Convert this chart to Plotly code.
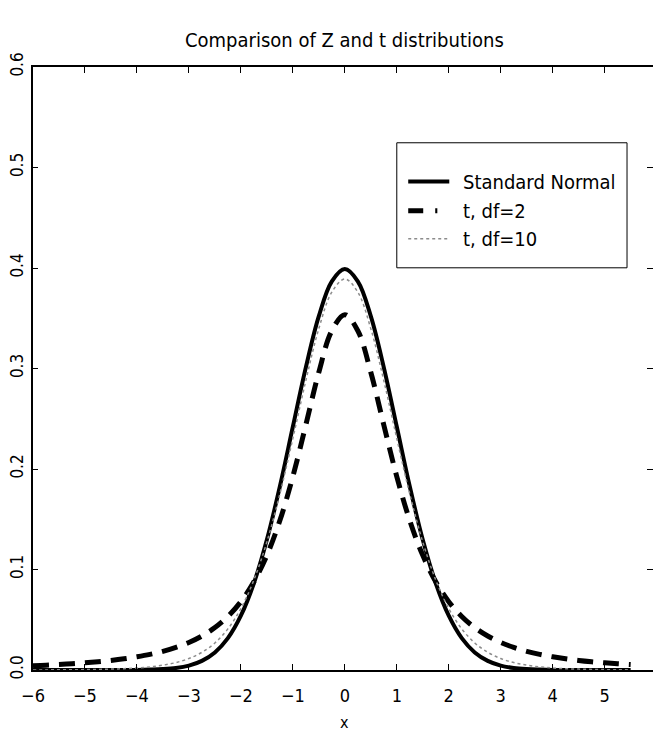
import plotly.graph_objects as go

# x grid used by the original plot
x = [-6.0, -5.75, -5.5, -5.25, -5.0, -4.75, -4.5, -4.25, -4.0, -3.75, -3.5, -3.25,
     -3.0, -2.75, -2.5, -2.25, -2.0, -1.75, -1.5, -1.25, -1.0, -0.75, -0.5, -0.25,
     0.0, 0.25, 0.5, 0.75, 1.0, 1.25, 1.5, 1.75, 2.0, 2.25, 2.5, 2.75,
     3.0, 3.25, 3.5, 3.75, 4.0, 4.25, 4.5, 4.75, 5.0, 5.25, 5.5]

# standard normal density
z_pdf = [0.0, 0.0, 0.0, 0.0, 0.0, 0.0, 0.0, 0.0, 0.0001, 0.0004, 0.0009, 0.0020,
         0.0044, 0.0091, 0.0175, 0.0317, 0.0540, 0.0863, 0.1295, 0.1826, 0.2420, 0.3011, 0.3521, 0.3867,
         0.3989, 0.3867, 0.3521, 0.3011, 0.2420, 0.1826, 0.1295, 0.0863, 0.0540, 0.0317, 0.0175, 0.0091,
         0.0044, 0.0020, 0.0009, 0.0004, 0.0001, 0.0, 0.0, 0.0, 0.0, 0.0, 0.0]

# t density, 2 degrees of freedom
t2_pdf = [0.0043, 0.0048, 0.0055, 0.0062, 0.0071, 0.0082, 0.0095, 0.0111, 0.0131, 0.0155, 0.0186, 0.0225,
          0.0274, 0.0338, 0.0422, 0.0533, 0.0680, 0.0878, 0.1141, 0.1487, 0.1925, 0.2438, 0.2963, 0.3376,
          0.3536, 0.3376, 0.2963, 0.2438, 0.1925, 0.1487, 0.1141, 0.0878, 0.0680, 0.0533, 0.0422, 0.0338,
          0.0274, 0.0225, 0.0186, 0.0155, 0.0131, 0.0111, 0.0095, 0.0082, 0.0071, 0.0062, 0.0055]

# t density, 10 degrees of freedom
t10_pdf = [0.0001, 0.0001, 0.0002, 0.0003, 0.0004, 0.0006, 0.0009, 0.0013, 0.0020, 0.0031, 0.0048, 0.0074,
           0.0114, 0.0176, 0.0269, 0.0409, 0.0611, 0.0895, 0.1274, 0.1751, 0.2304, 0.2880, 0.3397, 0.3760,
           0.3891, 0.3760, 0.3397, 0.2880, 0.2304, 0.1751, 0.1274, 0.0895, 0.0611, 0.0409, 0.0269, 0.0176,
           0.0114, 0.0074, 0.0048, 0.0031, 0.0020, 0.0013, 0.0009, 0.0006, 0.0004, 0.0003, 0.0002]

names = ["Standard Normal", "t, df=2", "t, df=10"]
x_ticks = [-6, -5, -4, -3, -2, -1, 0, 1, 2, 3, 4, 5, 6]
y_ticks = [0.0, 0.1, 0.2, 0.3, 0.4, 0.5, 0.6]

FONT = "Liberation Sans Narrow, DejaVu Sans Condensed, Roboto Condensed, Arial Narrow, sans-serif"

styles = [
    dict(color="black", width=4),
    dict(color="black", width=5, dash="16px,10px"),
    dict(color="#8c8c8c", width=1.5, dash="dot"),
]

fig = go.Figure()
for ys, nm, st in zip([z_pdf, t2_pdf, t10_pdf], names, styles):
    fig.add_trace(go.Scatter(x=x, y=ys, name=nm, mode="lines",
                             line=dict(shape="spline", **st), showlegend=False))
# empty trace so the right-hand tick axis gets drawn
fig.add_trace(go.Scatter(x=[], y=[], yaxis="y2", showlegend=False, hoverinfo="skip"))

# hand-made legend box like the original
shapes = [dict(type="rect", xref="x", yref="y", x0=1.0, x1=5.43, y0=0.4002, y1=0.5246,
               line=dict(color="black", width=1), fillcolor="white", layer="above")]
annots = []
rows = [0.486, 0.457, 0.429]
sample_end = [2.01, 1.78, 2.01]
sample_style = [styles[0], dict(color="black", width=5, dash="15px,12px"), styles[2]]
for ry, nm, st, xe in zip(rows, names, sample_style, sample_end):
    shapes.append(dict(type="line", xref="x", yref="y", x0=1.22, x1=xe, y0=ry, y1=ry,
                       line=st, layer="above"))
    annots.append(dict(x=2.24, y=ry, xref="x", yref="y", text=nm, showarrow=False,
                       xanchor="left", yanchor="middle", font=dict(size=20, color="black", family=FONT)))

annots.append(dict(x=0, y=1.0448, xref="x", yref="paper", text="Comparison of Z and t distributions",
                   showarrow=False, xanchor="center", yanchor="middle",
                   font=dict(size=20, color="black", family=FONT)))
annots.append(dict(x=0, y=-0.1061, xref="x", yref="paper", text="x",
                   showarrow=False, xanchor="center", yanchor="bottom",
                   font=dict(size=16, color="black", family=FONT)))

fig.update_layout(
    width=653, height=734,
    margin=dict(l=33, r=0, t=67, b=64),
    plot_bgcolor="white", paper_bgcolor="white",
    font=dict(family=FONT, color="black", size=17),
    shapes=shapes, annotations=annots,
    # right-hand ticks only (the right frame edge lies outside the picture)
    yaxis2=dict(overlaying="y", side="right", range=[0, 0.6], tickvals=y_ticks, ticks="inside",
                ticklen=6, tickwidth=1, tickcolor="black", showticklabels=False,
                showline=False, showgrid=False, zeroline=False),
)
fig.update_xaxes(range=[-6, 5.93], tickvals=x_ticks, ticks="inside", ticklen=6, tickwidth=1,
                 tickcolor="black", showline=True, linewidth=2, linecolor="black", mirror="ticks",
                 showgrid=False, zeroline=False, ticklabelstandoff=8,
                 tickfont=dict(size=18, family=FONT))
fig.update_layout(yaxis=dict(range=[0, 0.6], tickvals=y_ticks, tickformat=".1f", ticks="inside", ticklen=5,
                             tickwidth=1, tickcolor="black", showline=True, linewidth=2, linecolor="black",
                             mirror=False, showgrid=False, zeroline=False, tickangle=-90,
                             ticklabelstandoff=1, tickfont=dict(size=17, family=FONT)))

# page body has a default 8px margin; remove it so the figure fills the window
fig.write_html("out.html", config={"displayModeBar": False},
               post_script="document.body.style.margin='0px';")
